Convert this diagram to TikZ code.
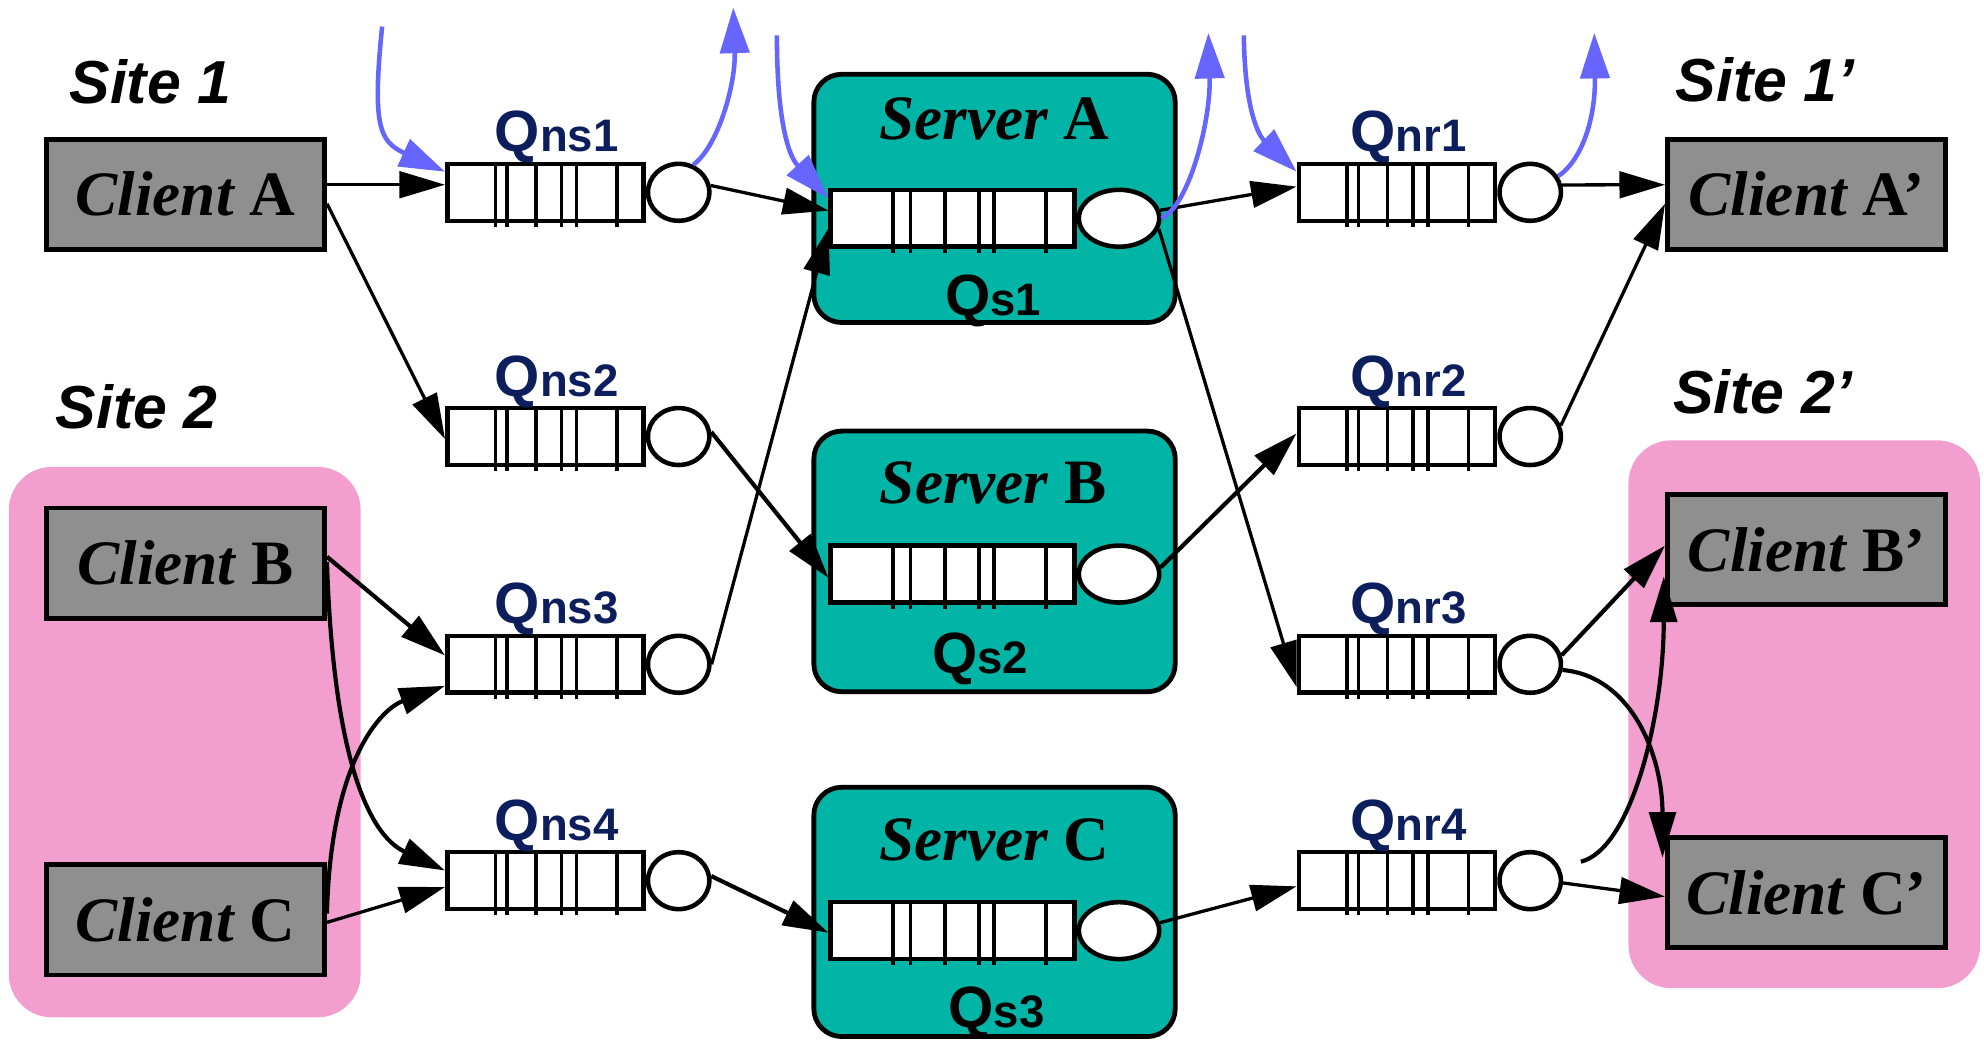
\documentclass[tikz,border=0pt]{standalone}
\usepackage{fontspec}
\setmainfont{Liberation Serif}
\newfontfamily\hsans{Liberation Sans}
\usetikzlibrary{arrows.meta,shapes.geometric}
\definecolor{boxgray}{HTML}{8F8F8F}
\definecolor{sitepink}{HTML}{F29ECF}
\definecolor{srvteal}{HTML}{00B5A5}
\definecolor{qnavy}{HTML}{0C1E5C}
\definecolor{flowblue}{HTML}{6666FF}

\newcommand\cltxt[1]{{\fontsize{50}{50}\selectfont\bfseries\itshape Client \upshape #1}}
\newcommand\srvtxt[1]{{\fontsize{50}{50}\selectfont\bfseries\itshape Server \upshape #1}}
\newcommand\qtxt[1]{{\hsans\bfseries\fontsize{46}{46}\selectfont Q\fontsize{36}{36}\selectfont #1}}
\newcommand\sitetxt[1]{{\hsans\bfseries\itshape\fontsize{48}{48}\selectfont Site #1}}

\tikzset{
  qrect/.style={draw,line width=3.6pt,fill=white,minimum width=155,minimum height=45,inner sep=0pt},
  qcirc/.style={ellipse,draw,line width=3.6pt,fill=white,minimum width=48.5,minimum height=45,inner sep=0pt},
  sqrect/.style={draw,line width=3.6pt,fill=white,minimum width=192.5,minimum height=45,inner sep=0pt},
  sqell/.style={ellipse,draw,line width=3.6pt,fill=white,minimum width=63.5,minimum height=45,inner sep=0pt},
  qdiv/.style={line width=2.8pt},
  client/.style={draw,line width=3.8pt,fill=boxgray,minimum width=220,minimum height=87,inner sep=0pt},
  server/.style={draw,line width=3.8pt,fill=srvteal,rounded corners=22pt,minimum width=285.6,inner sep=0pt},
  sitebg/.style={fill=sitepink,rounded corners=34pt},
  qlabel/.style={text=qnavy,anchor=base,inner sep=0pt},
  plainlabel/.style={anchor=base,inner sep=0pt},
  conn/.style={line width=2.6pt,-{Triangle[length=36pt,width=21pt]}},
  thickconn/.style={conn,line width=3.3pt},
  bflow/.style={draw=flowblue,line width=3.6pt,-{Triangle[length=36pt,width=23pt,fill=flowblue]}}
}

\newcommand\mkq[4]{% name, center x, center y, label
  \node[qrect] (#1) at (#2,#3) {};
  \node[qcirc,anchor=west] (#1c) at (#1.east) {};
  \foreach \dv in {40,49,72,92,104,136}
    \draw[qdiv] ([xshift=\dv pt]#1.north west) -- ([xshift=\dv pt,yshift=-3pt]#1.south west);
  \node[qlabel] (#1lab) at (#2+9,#3-32) {\qtxt{#4}};
}
\newcommand\mksq[3]{% name, center x, center y
  \node[sqrect] (#1) at (#2,#3) {};
  \node[sqell,anchor=west] (#1e) at (#1.east) {};
  \foreach \dv in {51,65,92,119,131,172}
    \draw[qdiv] ([xshift=\dv pt]#1.north west) -- ([xshift=\dv pt,yshift=-3pt]#1.south west);
}

\begin{document}
\begin{tikzpicture}[x=1pt,y=-1pt]
\useasboundingbox (0,0) rectangle (1568,824);

% site backgrounds
\path[sitebg] (7,369) rectangle (285,804);
\path[sitebg] (1287,348) rectangle (1565,781);

% site labels
\node[plainlabel] (s1) at (119,81.7) {\sitetxt{1}};
\node[plainlabel] (s2) at (108,338.8) {\sitetxt{2}};
\node[plainlabel] (s1p) at (1395,80.4) {\sitetxt{1’}};
\node[plainlabel] (s2p) at (1393,327) {\sitetxt{2’}};

% servers
\node[server,minimum height=196.2] (srva) at (786,156.8) {};
\node[server,minimum height=206] (srvb) at (786,443.7) {};
\node[server,minimum height=197] (srvc) at (786,720.7) {};
\node[plainlabel] (srvalab) at (786,110.6) {\srvtxt{A}};
\node[plainlabel] (srvblab) at (785,398) {\srvtxt{B}};
\node[plainlabel] (srvclab) at (786,680) {\srvtxt{C}};
\node[plainlabel] (qs1) at (785,249) {\qtxt{s1}};
\node[plainlabel] (qs2) at (774.5,532) {\qtxt{s2}};
\node[plainlabel] (qs3) at (787.5,812) {\qtxt{s3}};
\mksq{sqa}{752.8}{172.5}
\mksq{sqb}{752.8}{453.7}
\mksq{sqc}{752.8}{735.5}

% queues
\mkq{qns1}{431}{152}{ns1}
\mkq{qns2}{431}{345}{ns2}
\mkq{qns3}{431}{525}{ns3}
\mkq{qns4}{431}{696}{ns4}
\mkq{qnr1}{1104}{152}{nr1}
\mkq{qnr2}{1104}{345}{nr2}
\mkq{qnr3}{1104}{525}{nr3}
\mkq{qnr4}{1104}{696}{nr4}

% clients
\node[client] (ca) at (146.5,153.5) {\cltxt{A}};
\node[client] (cb) at (146.5,445) {\cltxt{B}};
\node[client] (cc) at (146.5,727) {\cltxt{C}};
\node[client] (cap) at (1427.8,153.5) {\cltxt{A’}};
\node[client] (cbp) at (1427.8,434.2) {\cltxt{B’}};
\node[client] (ccp) at (1427.8,705.6) {\cltxt{C’}};

% black connectors
\draw[conn] ([yshift=7.5pt]ca.east) -- ([yshift=6pt]qns1.west);
\draw[conn] ([yshift=-7.5pt]ca.east) -- ([yshift=-2pt]qns2.west);
\draw[conn] (qns1c.12) -- ([yshift=6pt]sqa.west);
\draw[thickconn] (qns2c.8) -- ([yshift=-3pt]sqb.west);
\draw[conn] (qns3c.east) -- ([yshift=-8pt]sqa.west);
\draw[thickconn] ([yshift=5pt]cb.east) -- ([yshift=7pt]qns3.west);
\draw[thickconn] ([yshift=1pt]cb.east) .. controls +(5,156) and +(-60,-28) .. ([yshift=8pt]qns4.west);
\draw[thickconn] ([yshift=5pt]cc.east) .. controls +(3,-122) and +(-50,18) .. ([yshift=-17pt]qns3.west);
\draw[conn] ([yshift=-2pt]cc.east) -- ([yshift=-5pt]qns4.west);
\draw[thickconn] (qns4c.8) -- ([yshift=-1.6pt]sqc.west);
\draw[conn] (sqae.11) -- ([yshift=4.5pt]qnr1.west);
\draw[conn] (sqae.-15) -- ([yshift=-18pt]qnr3.west);
\draw[thickconn] (sqbe.9) -- ([yshift=2.5pt]qnr2.west);
\draw[conn] (sqce.11) -- ([yshift=-4.5pt]qnr4.west);
\draw[conn] (qnr1c.13) -- ([yshift=7.5pt]cap.west);
\draw[conn] (qnr2c.20) -- ([yshift=-7.5pt]cap.west);
\draw[thickconn] (qnr3c.16) -- ([yshift=3pt]cbp.west);
\draw[thickconn] (qnr3c.-10) .. controls +(55,5) and +(0,-80) .. ([xshift=-2pt,yshift=-17.6pt]ccp.north west);
\draw[thickconn] ([xshift=14pt,yshift=15pt]qnr4c.east) .. controls +(40,-10) and +(0,110) .. ([xshift=-1pt,yshift=24pt]cbp.south west);
\draw[conn] (qnr4c.-4) -- ([yshift=-3pt]ccp.west);

% blue flows
\coordinate (fin1) at (302,21);
\coordinate (fout1) at (579.5,6);
\coordinate (fin2) at (614,28);
\coordinate (fout2) at (955,26);
\coordinate (fin3) at (983,28);
\coordinate (fout3) at (1260,26);
\draw[bflow] (fin1) .. controls (294,100) and (300,112) .. ([yshift=-8pt]qns1.north west);
\draw[bflow] (qns1c.62) .. controls +(20,-15) and +(2,60) .. (fout1);
\draw[bflow] (fin2) .. controls +(0,92) and +(-24,-26) .. ([yshift=-8.7pt]sqa.north west);
\draw[bflow] (sqae.east) .. controls +(22,-10) and +(2,69) .. (fout2);
\draw[bflow] (fin3) .. controls +(1,72) and +(-25,-24) .. ([yshift=-8pt]qnr1.north west);
\draw[bflow] (qnr1c.30) .. controls +(18,-12) and +(1,69) .. (fout3);
\end{tikzpicture}
\end{document}
